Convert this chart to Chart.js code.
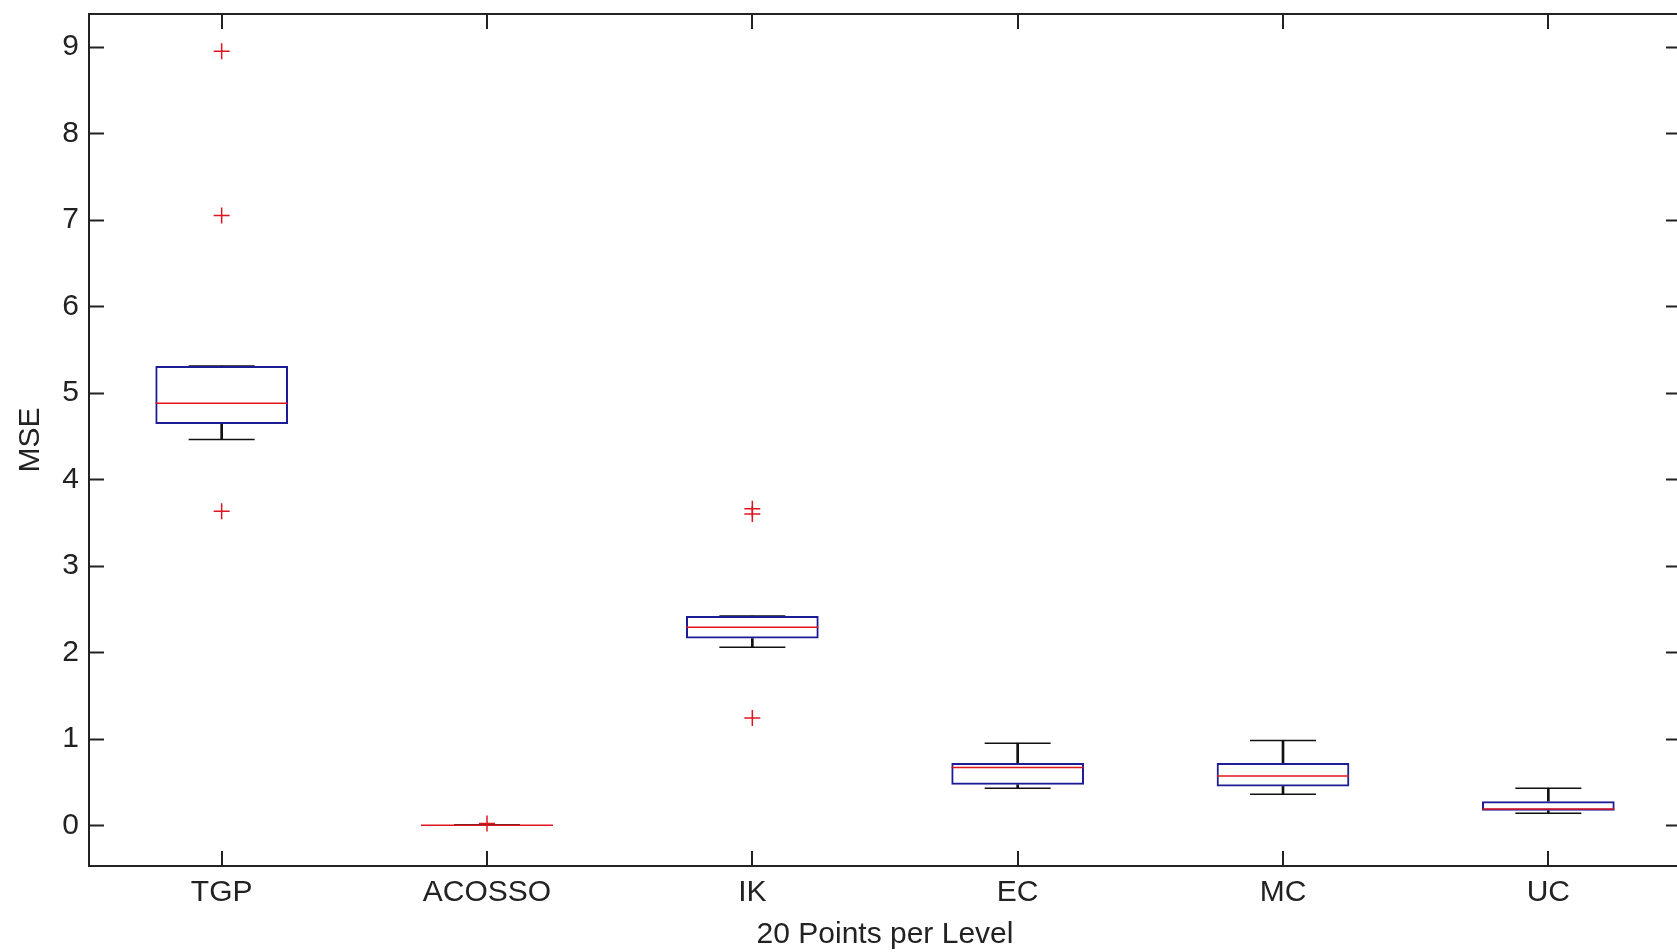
<!DOCTYPE html>
<html>
<head>
<meta charset="utf-8">
<script src="https://cdn.jsdelivr.net/npm/chart.js@4.4.1/dist/chart.umd.min.js"></script>
<style>
    html, body { margin: 0; padding: 0; background: #fff; overflow: hidden; }
    #wrap { width: 1700px; height: 952px; position: relative; }
</style>
</head>
<body>
<div id="wrap"><canvas id="boxChart"></canvas></div>
<script>
// Methods on the x axis
const methods = ['TGP', 'ACOSSO', 'IK', 'EC', 'MC', 'UC'];
// Box statistics
const q1 = [4.64, 0.0, 2.16, 0.47, 0.45, 0.17];
const q3 = [5.31, 0.005, 2.42, 0.72, 0.72, 0.28];
const medians = [4.88, 0.0, 2.29, 0.67, 0.57, 0.19];
const lowerWhisker = [4.46, 0.0, 2.06, 0.43, 0.36, 0.14];
const upperWhisker = [5.31, 0.005, 2.42, 0.95, 0.98, 0.43];
// Outliers per method
const outliers = {
    TGP: [8.95, 7.05, 3.63],
    ACOSSO: [0.02],
    IK: [3.66, 3.60, 1.24],
    EC: [],
    MC: [],
    UC: []
};
const yTicks = [0, 1, 2, 3, 4, 5, 6, 7, 8, 9];

const FONT = '"Liberation Sans", Arial, sans-serif';
const BLUE = '#1c1c96';
const RED = '#e0141e';

document.addEventListener('DOMContentLoaded', function () {
    let ctx = document.getElementById('boxChart').getContext('2d');

    let outlierPoints = [];
    methods.forEach(m => outliers[m].forEach(v => outlierPoints.push({x: m, y: v})));

    // frame with inward ticks like the original plot
    const framePlugin = {
        id: 'frame',
        afterDatasetsDraw(chart) {
            let c = chart.ctx, a = chart.chartArea;
            let xs = chart.scales.x, ys = chart.scales.y;
            let len = 15;
            c.save();
            c.strokeStyle = '#222';
            c.lineWidth = 2;
            c.strokeRect(a.left, a.top, a.right - a.left, a.bottom - a.top);
            c.beginPath();
            ys.ticks.forEach((t, i) => {
                let y = Math.round(ys.getPixelForTick(i)) + 0.5;
                c.moveTo(a.left, y); c.lineTo(a.left + len, y);
                c.moveTo(a.right, y); c.lineTo(a.right - len, y);
            });
            xs.ticks.forEach((t, i) => {
                let x = Math.round(xs.getPixelForTick(i));
                c.moveTo(x, a.bottom); c.lineTo(x, a.bottom - len);
                c.moveTo(x, a.top); c.lineTo(x, a.top + len);
            });
            c.stroke();
            c.restore();
        }
    };

    let boxChart = new Chart(ctx, {
        type: 'bar',
        data: {
            labels: methods,
            datasets: [{
                type: 'scatter',
                label: 'Outliers',
                data: outlierPoints,
                pointStyle: 'cross',
                pointRadius: 8,
                borderColor: RED,
                borderWidth: 1.5
            }, {
                type: 'scatter',
                label: 'Median',
                data: methods.map((m, i) => ({x: m, y: medians[i]})),
                pointStyle: 'line',
                pointRadius: 66,
                borderColor: RED,
                borderWidth: 1.5
            }, {
                label: 'Box',
                data: methods.map((m, i) => [q1[i], q3[i]]),
                backgroundColor: 'rgba(0,0,0,0)',
                borderColor: BLUE,
                borderWidth: 2,
                borderSkipped: false,
                barPercentage: 0.5,
                categoryPercentage: 1,
                grouped: false
            }, {
                type: 'scatter',
                label: 'Caps',
                data: methods.map((m, i) => ({x: m, y: upperWhisker[i]}))
                    .concat(methods.map((m, i) => ({x: m, y: lowerWhisker[i]}))),
                pointStyle: 'line',
                pointRadius: 33,
                borderColor: '#111',
                borderWidth: 1.5
            }, {
                label: 'Upper whisker',
                data: methods.map((m, i) => [q3[i], upperWhisker[i]]),
                backgroundColor: '#111',
                borderWidth: 0,
                barThickness: 2,
                grouped: false
            }, {
                label: 'Lower whisker',
                data: methods.map((m, i) => [lowerWhisker[i], q1[i]]),
                backgroundColor: '#111',
                borderWidth: 0,
                barThickness: 2,
                grouped: false
            }]
        },
        options: {
            responsive: true,
            maintainAspectRatio: false,
            animation: false,
            events: [],
            layout: {autoPadding: false, padding: {top: 14, right: 19, left: 0, bottom: 0}},
            plugins: {legend: {display: false}, tooltip: {enabled: false}},
            scales: {
                x: {
                    type: 'category',
                    offset: true,
                    grid: {display: false, drawTicks: false},
                    border: {display: false},
                    ticks: {color: '#222', padding: 9, font: {family: FONT, size: 30}},
                    title: {display: true, text: '20 Points per Level', color: '#222',
                        padding: {top: 0, bottom: -1}, font: {family: FONT, size: 30}},
                    afterFit: function (scale) {
                        scale.height = 86;
                        scale.paddingLeft = 0;
                        scale.paddingRight = 0;
                    }
                },
                y: {
                    min: -0.47,
                    max: 9.38,
                    afterBuildTicks: function (scale) { scale.ticks = yTicks.map(v => ({value: v})); },
                    grid: {display: false, drawTicks: false},
                    border: {display: false},
                    ticks: {color: '#222', padding: 10, font: {family: FONT, size: 30}},
                    title: {display: true, text: 'MSE', color: '#222',
                        padding: {top: 13, bottom: 0}, font: {family: FONT, size: 30}},
                    afterFit: function (scale) {
                        scale.width = 89;
                        scale.paddingTop = 0;
                        scale.paddingBottom = 0;
                    }
                }
            }
        },
        plugins: [framePlugin]
    });
});
</script>
</body>
</html>
